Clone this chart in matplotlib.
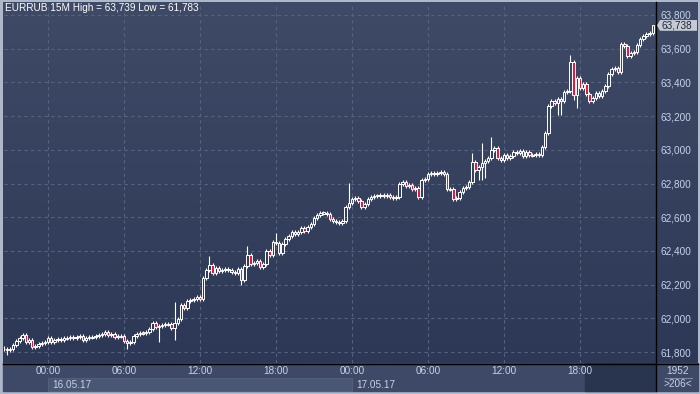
import numpy as np
import matplotlib
matplotlib.use("Agg")
import matplotlib.pyplot as plt
from matplotlib.transforms import blended_transform_factory
from matplotlib.patches import Rectangle, Polygon

plt.rcParams["font.family"] = ["Liberation Sans", "DejaVu Sans"]

# ---- data (EURRUB 15M, 206 bars) ----
first_open = 61.821
closes = [
    61.818, 61.812, 61.818, 61.841, 61.865, 61.883, 61.901, 61.859, 61.871, 61.830,
    61.835, 61.847, 61.853, 61.859, 61.883, 61.859, 61.871, 61.877, 61.871, 61.883,
    61.883, 61.889, 61.883, 61.889, 61.895, 61.871, 61.883, 61.889, 61.889, 61.895,
    61.901, 61.907, 61.919, 61.901, 61.907, 61.889, 61.895, 61.895, 61.865, 61.853,
    61.859, 61.895, 61.907, 61.913, 61.913, 61.919, 61.936, 61.972, 61.948, 61.954,
    61.960, 61.966, 61.966, 61.942, 61.972, 61.996, 62.079, 62.061, 62.103, 62.109,
    62.114, 62.126, 62.114, 62.239, 62.287, 62.316, 62.269, 62.298, 62.281, 62.287,
    62.293, 62.287, 62.275, 62.269, 62.293, 62.227, 62.310, 62.376, 62.322, 62.328,
    62.340, 62.304, 62.322, 62.399, 62.376, 62.453, 62.447, 62.387, 62.441, 62.471,
    62.488, 62.512, 62.500, 62.512, 62.536, 62.518, 62.542, 62.560, 62.595, 62.613,
    62.625, 62.625, 62.619, 62.589, 62.577, 62.571, 62.566, 62.577, 62.661, 62.684,
    62.708, 62.714, 62.696, 62.661, 62.678, 62.708, 62.720, 62.726, 62.726, 62.732,
    62.726, 62.732, 62.720, 62.714, 62.720, 62.797, 62.809, 62.785, 62.791, 62.767,
    62.773, 62.720, 62.821, 62.827, 62.856, 62.862, 62.856, 62.862, 62.868, 62.856,
    62.767, 62.767, 62.708, 62.714, 62.750, 62.773, 62.779, 62.809, 62.928, 62.880,
    62.898, 62.922, 62.934, 62.951, 62.999, 63.011, 62.951, 62.939, 62.969, 62.951,
    62.963, 62.987, 62.981, 62.993, 62.963, 62.987, 62.969, 62.969, 62.975, 62.969,
    63.017, 63.100, 63.260, 63.290, 63.278, 63.301, 63.290, 63.343, 63.349, 63.521,
    63.325, 63.426, 63.367, 63.391, 63.331, 63.290, 63.307, 63.337, 63.319, 63.349,
    63.379, 63.450, 63.480, 63.485, 63.462, 63.628, 63.616, 63.557, 63.574, 63.580,
    63.622, 63.658, 63.675, 63.687, 63.693, 63.738,
]
# wick lengths beyond the body (price units): typical + the long ones
wick_up_base = 0.012
wick_dn_base = 0.010
long_wick_up = {54: 0.125, 65: 0.054, 77: 0.053, 86: 0.053, 109: 0.119, 148: 0.053,
                151: 0.118, 154: 0.077, 179: 0.042, 205: 0.001}
long_wick_dn = {1: 0.029, 39: 0.035, 49: 0.089, 54: 0.071, 75: 0.029, 150: 0.059,
                151: 0.077, 152: 0.090, 175: 0.072, 176: 0.084, 180: 0.029, 181: 0.077}

price_ticks = [61.8, 62.0, 62.2, 62.4, 62.6, 62.8, 63.0, 63.2, 63.4, 63.6, 63.8]
time_idx = [14, 38, 62, 86, 110, 134, 158, 182]
time_labels = ["00:00", "06:00", "12:00", "18:00", "00:00", "06:00", "12:00", "18:00"]
date_idx = [14, 110]
date_labels = ["16.05.17", "17.05.17"]
symbol = "EURRUB 15M"
hi_val, lo_val = 63.739, 61.783
last_price = 63.738
bar_count = 1952
visible_bars = 206

# ---- colours ----
BORDER = "#aeb8c8"
TOP = np.array([0x3e, 0x4a, 0x66]) / 255
BOT = np.array([0x2c, 0x38, 0x55]) / 255
GRID = "#56637f"
LABEL = "#c6d3ea"
RED = "#e8173f"
FS = 7.2

W, H = 700, 394
fig = plt.figure(figsize=(7.0, 3.94), dpi=100)
fig.patch.set_facecolor(BORDER)

# background layer in pixel coordinates
bg = fig.add_axes([0, 0, 1, 1])
bg.set_xlim(0, W)
bg.set_ylim(H, 0)
bg.axis("off")

rows = np.linspace(0, 1, 256)[:, None]
grad = (TOP[None, :] * (1 - rows) + BOT[None, :] * rows)[:, None, :]
bg.imshow(grad, extent=(3, 698, 363, 2), aspect="auto", zorder=0)
bg.add_patch(Rectangle((3, 363), 695, 28, color="#3d4966", zorder=1))
bg.add_patch(Rectangle((585, 363), 70, 28, color="#29344f", zorder=2))

# main chart
ax = fig.add_axes([4 / W, (H - 363) / H, 651 / W, 360 / H])
ax.set_facecolor("none")
ax.set_xlim(0.1, 205.7)
ax.set_ylim(61.735, 63.871)
for s in ax.spines.values():
    s.set_visible(False)

for p in price_ticks:
    ax.axhline(p, color=GRID, lw=0.8, ls=(0, (3, 3)), zorder=1)
for t in time_idx:
    ax.axvline(t, color=GRID, lw=0.8, ls=(0, (3, 3)), zorder=1)

opens = [first_open] + closes[:-1]
bw = 0.78
for i, (o, c) in enumerate(zip(opens, closes)):
    top, bot = max(o, c), min(o, c)
    hi = top + long_wick_up.get(i, wick_up_base)
    lo = bot - long_wick_dn.get(i, wick_dn_base)
    ax.vlines(i, top, hi, color="white", lw=0.8, zorder=3)
    ax.vlines(i, lo, bot, color="white", lw=0.8, zorder=3)
    if abs(c - o) < 0.003:
        ax.bar(i, 0.006, bottom=(o + c) / 2 - 0.003, width=bw, facecolor="none",
               edgecolor="white", lw=0.7, zorder=4)
    else:
        ax.bar(i, top - bot, bottom=bot, width=bw,
               facecolor=RED if c < o else "none",
               edgecolor="white", lw=0.7, zorder=4)

ax.yaxis.tick_right()
ax.set_yticks(price_ticks, [f"{p:.3f}".replace(".", ",") for p in price_ticks])
ax.set_xticks(time_idx, time_labels)
ax.tick_params(axis="both", length=0, colors=LABEL, labelsize=FS)
ax.tick_params(axis="y", pad=4)
ax.tick_params(axis="x", pad=2.5)
for lab in ax.get_yticklabels():
    lab.set_horizontalalignment("left")

# date band below the time labels
tr = blended_transform_factory(ax.transData, bg.transData)
bg.add_patch(Rectangle((date_idx[0], 378), date_idx[1] - date_idx[0], 13,
                       transform=tr, facecolor="#4a5774", edgecolor="#56637f",
                       lw=0.6, zorder=2))
for d, lab in zip(date_idx, date_labels):
    bg.text(d + 1.2, 385, lab, transform=tr, color="#c9d1e0", fontsize=FS,
            va="center", ha="left", zorder=5)

# separators
bg.plot([655.5, 655.5], [2, 391], color="black", lw=1.0, zorder=6)
bg.plot([3, 698], [363.5, 363.5], color="black", lw=1.0, zorder=6)

# last price marker
lp_tr = blended_transform_factory(bg.transData, ax.transData)
bg.add_patch(Polygon([(657, last_price), (660, last_price + 0.032), (697, last_price + 0.032),
                      (697, last_price - 0.032), (660, last_price - 0.032)],
                     closed=True, transform=lp_tr, facecolor="#c5cad3",
                     edgecolor="none", zorder=7))
bg.text(661, last_price, f"{last_price:.3f}".replace(".", ","), transform=lp_tr,
        color="#1e2740", fontsize=FS, va="center", ha="left", zorder=8)

# bottom-right counters
bg.text(678, 371, str(bar_count), color=LABEL, fontsize=FS, ha="center", va="center", zorder=8)
bg.plot([665, 692], [377.5, 377.5], color="#7d889c", lw=0.8, zorder=8)
bg.text(678, 384, f">{visible_bars}<", color=LABEL, fontsize=FS, ha="center", va="center", zorder=8)

# header
bg.text(5, 8, f"{symbol} High = {hi_val:.3f} Low = {lo_val:.3f}".replace(".", ","),
        color="white", fontsize=FS, ha="left", va="center", zorder=8)

fig.savefig("out.png", dpi=100, facecolor=fig.get_facecolor())
